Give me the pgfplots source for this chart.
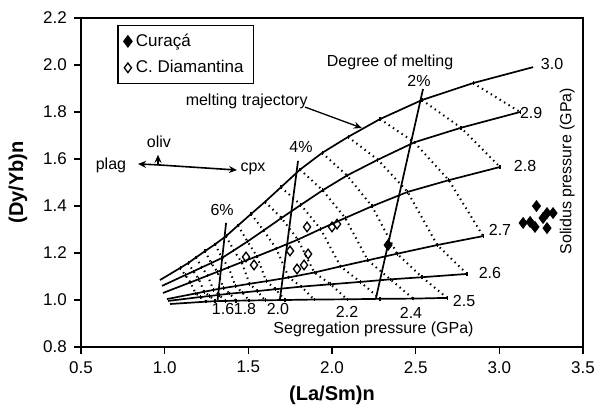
\documentclass[border=0pt]{standalone}
\usepackage{fontspec}
\setmainfont{Liberation Sans}
\usepackage{pgfplots}
\pgfplotsset{compat=1.18}
\usetikzlibrary{arrows.meta}
\newcommand\lf{\fontsize{8}{9.6}\selectfont}
\pgfplotsset{
  curve/.style={black, line width=0.85pt, mark=none, forget plot},
  iso/.style={black, line width=1.0pt, dash pattern=on 0.7pt off 1.9pt, line cap=butt,
     mark=|, mark size=0.9pt, mark options={solid, line width=0.55pt}, forget plot},
  melt/.style={black, line width=0.85pt, mark=none, forget plot},
  arr/.style={black, line width=0.8pt, -{Stealth[length=4pt,width=3.5pt]}, mark=none, forget plot},
}
\begin{document}
\begin{tikzpicture}
\begin{axis}[
  scale only axis, width=251pt, height=164.5pt,
  xmin=0.5, xmax=3.5, ymin=0.8, ymax=2.2,
  xtick={0.5,1.0,1.5,2.0,2.5,3.0,3.5},
  ytick={0.8,1.0,1.2,1.4,1.6,1.8,2.0,2.2},
  tick align=outside, xtick pos=bottom, ytick pos=left,
  major tick length=3.6pt,
  tick style={black, line width=0.8pt},
  axis line style={black, line width=0.9pt},
  ticklabel style={font=\fontsize{8.5}{10}\selectfont},
  /pgf/number format/.cd, fixed, fixed zerofill, precision=1, assume math mode=true,
  /pgfplots/.cd,
  xlabel={(La/Sm)n}, ylabel={(Dy/Yb)n},
  label style={font=\fontsize{10}{12}\selectfont\bfseries},
  xlabel style={at={(axis description cs:0.5,-0.146)}, anchor=center},
  ylabel style={at={(axis description cs:-0.1255,0.5)}, anchor=center},
  legend style={at={(axis description cs:0.072,0.979)}, anchor=north west, draw=black,
     line width=0.7pt, font=\fontsize{8.5}{10}\selectfont, inner xsep=3pt, inner ysep=2pt,
     row sep=1.5pt, cells={anchor=west}},
  legend cell align=left,
  clip=false,
]
\coordinate (ll) at (rel axis cs:0,0);
\coordinate (ur) at (rel axis cs:1,1);
% solidus pressure curves
\addplot[curve] coordinates {(0.972,1.085) (1.092,1.136) (1.140,1.157) (1.187,1.181) (1.241,1.208) (1.301,1.237) (1.367,1.272) (1.438,1.317) (1.516,1.366) (1.600,1.418) (1.695,1.480) (1.809,1.555) (1.941,1.626) (2.096,1.694) (2.287,1.770) (2.538,1.851) (2.843,1.923) (3.202,1.991)};
\addplot[curve] coordinates {(0.984,1.060) (1.123,1.106) (1.172,1.122) (1.222,1.139) (1.278,1.157) (1.342,1.179) (1.413,1.211) (1.495,1.249) (1.591,1.296) (1.698,1.349) (1.814,1.405) (1.944,1.467) (2.090,1.530) (2.274,1.597) (2.492,1.671) (2.771,1.733) (3.124,1.800)};
\addplot[curve] coordinates {(0.990,1.030) (1.154,1.075) (1.204,1.089) (1.257,1.104) (1.315,1.120) (1.382,1.139) (1.460,1.161) (1.551,1.186) (1.667,1.219) (1.796,1.257) (1.932,1.302) (2.079,1.349) (2.239,1.399) (2.452,1.460) (2.698,1.510) (3.004,1.566)};
\addplot[curve] coordinates {(1.014,1.004) (1.185,1.028) (1.236,1.035) (1.291,1.043) (1.352,1.051) (1.423,1.059) (1.507,1.069) (1.607,1.080) (1.742,1.096) (1.894,1.117) (2.051,1.143) (2.214,1.169) (2.389,1.197) (2.629,1.234) (2.903,1.272)};
\addplot[curve] coordinates {(1.020,0.996) (1.216,1.013) (1.269,1.017) (1.326,1.022) (1.389,1.027) (1.464,1.032) (1.553,1.038) (1.663,1.046) (1.817,1.057) (1.992,1.067) (2.169,1.077) (2.349,1.088) (2.538,1.097) (2.807,1.111)};
\addplot[curve] coordinates {(1.032,0.983) (1.247,0.993) (1.301,0.995) (1.361,0.996) (1.426,0.997) (1.504,0.998) (1.600,0.999) (1.719,1.000) (1.893,1.002) (2.090,1.003) (2.287,1.005) (2.484,1.006) (2.688,1.009)};
% segregation pressure isobars (dotted)
\addplot[iso] coordinates {(1.092,1.136) (1.123,1.106) (1.154,1.075) (1.185,1.028) (1.216,1.013) (1.247,0.993)};
\addplot[iso] coordinates {(1.140,1.157) (1.172,1.122) (1.204,1.089) (1.236,1.035) (1.269,1.017) (1.301,0.995)};
\addplot[iso] coordinates {(1.187,1.181) (1.222,1.139) (1.257,1.104) (1.291,1.043) (1.326,1.022) (1.361,0.996)};
\addplot[iso] coordinates {(1.241,1.208) (1.278,1.157) (1.315,1.120) (1.352,1.051) (1.389,1.027) (1.426,0.997)};
\addplot[iso] coordinates {(1.301,1.237) (1.342,1.179) (1.382,1.139) (1.423,1.059) (1.464,1.032) (1.504,0.998)};
\addplot[iso] coordinates {(1.367,1.272) (1.413,1.211) (1.460,1.161) (1.507,1.069) (1.553,1.038) (1.600,0.999)};
\addplot[iso] coordinates {(1.438,1.317) (1.495,1.249) (1.551,1.186) (1.607,1.080) (1.663,1.046) (1.719,1.000)};
\addplot[iso] coordinates {(1.516,1.366) (1.591,1.296) (1.667,1.219) (1.742,1.096) (1.817,1.057) (1.893,1.002)};
\addplot[iso] coordinates {(1.600,1.418) (1.698,1.349) (1.796,1.257) (1.894,1.117) (1.992,1.067) (2.090,1.003)};
\addplot[iso] coordinates {(1.695,1.480) (1.814,1.405) (1.932,1.302) (2.051,1.143) (2.169,1.077) (2.287,1.005)};
\addplot[iso] coordinates {(1.809,1.555) (1.944,1.467) (2.079,1.349) (2.214,1.169) (2.349,1.088) (2.484,1.006)};
\addplot[iso] coordinates {(1.941,1.626) (2.090,1.530) (2.239,1.399) (2.389,1.197) (2.538,1.097) (2.688,1.009)};
\addplot[iso] coordinates {(2.096,1.694) (2.274,1.597) (2.452,1.460) (2.629,1.234) (2.807,1.111)};
\addplot[iso] coordinates {(2.287,1.770) (2.492,1.671) (2.698,1.510) (2.903,1.272)};
\addplot[iso] coordinates {(2.538,1.851) (2.771,1.733) (3.004,1.566)};
\addplot[iso] coordinates {(2.843,1.923) (3.124,1.800)};
% degree of melting lines
\addplot[melt] coordinates {(1.367,1.328) (1.316,0.998)};
\addplot[melt] coordinates {(1.797,1.592) (1.689,1.004)};
\addplot[melt] coordinates {(2.544,1.898) (2.263,1.009)};
% arrows
\addplot[arr, line width=0.65pt] coordinates {(1.839,1.821) (2.178,1.732)};
\addplot[arr] coordinates {(0.960,1.575) (0.841,1.579)};
\addplot[arr] coordinates {(0.960,1.575) (1.432,1.553)};
\addplot[arr] coordinates {(0.960,1.575) (0.960,1.618)};
% data
\addplot[only marks, mark=diamond*, mark size=2.7pt, black] coordinates {(2.335,1.234) (3.222,1.400) (3.142,1.328) (3.184,1.332) (3.213,1.311) (3.261,1.349) (3.285,1.370) (3.321,1.370) (3.285,1.306)};
\addlegendentry{Cura\c{c}\'a}
\addplot[only marks, mark=diamond, mark size=2.4pt, black, mark options={fill=white, line width=0.65pt}] coordinates {(1.486,1.183) (1.534,1.149) (1.749,1.209) (1.851,1.311) (2.000,1.311) (2.030,1.323) (1.857,1.196) (1.833,1.149) (1.791,1.132)};
\addlegendentry{C. Diamantina}
% texts
\node[font=\lf] at (axis cs:1.343,1.381) {6\%};
\node[font=\lf] at (axis cs:1.815,1.651) {4\%};
\node[font=\lf] at (axis cs:2.520,1.932) {2\%};
\node[font=\lf] at (axis cs:2.347,2.010) {Degree of melting};
\node[font=\lf] at (axis cs:1.490,1.847) {melting trajectory};
\node[font=\lf] at (axis cs:0.966,1.672) {oliv};
\node[font=\lf] at (axis cs:0.679,1.572) {plag};
\node[font=\lf] at (axis cs:1.528,1.557) {cpx};
\node[font=\lf] at (axis cs:3.315,2.004) {3.0};
\node[font=\lf] at (axis cs:3.190,1.796) {2.9};
\node[font=\lf] at (axis cs:3.154,1.570) {2.8};
\node[font=\lf] at (axis cs:3.004,1.298) {2.7};
\node[font=\lf] at (axis cs:2.944,1.115) {2.6};
\node[font=\lf] at (axis cs:2.789,0.996) {2.5};
\node[font=\lf] at (axis cs:1.349,0.963) {1.6};
\node[font=\lf] at (axis cs:1.480,0.963) {1.8};
\node[font=\lf] at (axis cs:1.677,0.963) {2.0};
\node[font=\lf] at (axis cs:2.090,0.948) {2.2};
\node[font=\lf] at (axis cs:2.472,0.946) {2.4};
\node[font=\lf] at (axis cs:2.248,0.874) {Segregation pressure (GPa)};
\node[font=\lf, rotate=90] at (axis cs:3.405,1.549) {Solidus pressure (GPa)};
\end{axis}
\pgfresetboundingbox
\path[use as bounding box] ([shift={(-40.5pt,-30.5pt)}]ll) rectangle ([shift={(9.5pt,9pt)}]ur);
\end{tikzpicture}
\end{document}
